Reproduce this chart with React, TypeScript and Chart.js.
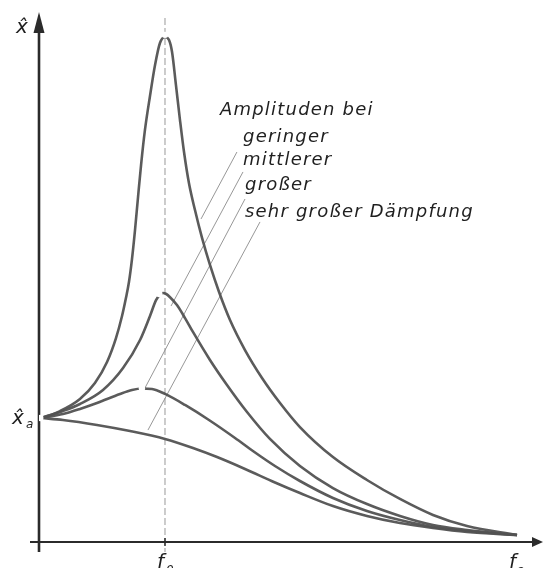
import React, { useEffect, useRef } from "react";
import { Chart, registerables } from "chart.js";

Chart.register(...registerables);

// Frequency ratio f_a / f_0 (x) and amplitude ratio x̂ / x̂_a (y)
const geringerX = [0.02, 0.167, 0.325, 0.444, 0.54, 0.611, 0.659, 0.69, 0.714, 0.738, 0.762, 0.786, 0.81, 0.841, 0.881, 0.921, 0.96, 1.0, 1.032, 1.056, 1.087, 1.119, 1.151, 1.19, 1.238, 1.294, 1.357, 1.429, 1.516, 1.635, 1.77, 1.913, 2.071, 2.333, 2.603, 2.865, 3.127, 3.397, 3.794];
const geringerY = [1.0, 1.056, 1.153, 1.282, 1.452, 1.645, 1.823, 1.968, 2.097, 2.282, 2.516, 2.782, 3.04, 3.323, 3.597, 3.847, 4.024, 4.073, 4.048, 3.952, 3.685, 3.403, 3.145, 2.895, 2.677, 2.452, 2.234, 2.016, 1.79, 1.548, 1.323, 1.121, 0.927, 0.685, 0.5, 0.347, 0.218, 0.129, 0.056];

const mittlererX = [0.02, 0.19, 0.325, 0.508, 0.667, 0.802, 0.881, 0.929, 0.96, 0.984, 1.01, 1.04, 1.095, 1.159, 1.222, 1.357, 1.492, 1.651, 1.833, 2.071, 2.333, 2.603, 2.865, 3.127, 3.397, 3.794];
const mittlererY = [1.0, 1.056, 1.113, 1.226, 1.403, 1.629, 1.823, 1.95, 1.993, 2.008, 2.0, 1.974, 1.911, 1.806, 1.694, 1.468, 1.266, 1.048, 0.831, 0.613, 0.435, 0.306, 0.21, 0.137, 0.097, 0.056];

const grosserX = [0.02, 0.19, 0.325, 0.46, 0.643, 0.738, 0.817, 0.897, 1.0, 1.159, 1.349, 1.556, 1.698, 1.873, 2.071, 2.333, 2.603, 2.865, 3.127, 3.397, 3.794];
const grosserY = [1.0, 1.032, 1.073, 1.121, 1.194, 1.226, 1.238, 1.234, 1.194, 1.105, 0.984, 0.839, 0.734, 0.613, 0.492, 0.355, 0.25, 0.177, 0.121, 0.089, 0.056];

const sehrGrosserX = [0.02, 0.19, 0.46, 0.722, 1.0, 1.222, 1.413, 1.635, 1.873, 2.071, 2.333, 2.603, 2.865, 3.127, 3.397, 3.794];
const sehrGrosserY = [1.0, 0.984, 0.944, 0.895, 0.831, 0.758, 0.685, 0.589, 0.48, 0.395, 0.29, 0.21, 0.153, 0.113, 0.081, 0.056];

// small white dots where the curves meet / peak
const markerX = [0.01, 1.0, 0.955, 0.817];
const markerY = [1.0, 4.09, 2.0, 1.24];

// label texts
const titleLine = "Amplituden bei";
const curveLabels = ["geringer", "mittlerer", "großer", "sehr großer Dämpfung"];
// leader lines: label anchor -> point on curve (data units)
const leaderFromX = [1.571, 1.619, 1.635, 1.754];
const leaderFromY = [3.145, 2.984, 2.766, 2.581];
const leaderToX = [1.286, 1.048, 0.841, 0.865];
const leaderToY = [2.605, 1.903, 1.242, 0.903];

const toPts = (xs: number[], ys: number[]) => xs.map((x, i) => ({ x, y: ys[i] }));

const CURVE = "rgba(82,82,82,0.95)";
const INK = "#1f1f1f";

const decor = {
  id: "decor",
  beforeDatasetsDraw(chart: any) {
    const { ctx, scales } = chart;
    const xs = scales.x;
    const ys = scales.y;
    const x0 = xs.getPixelForValue(0);
    const y0 = ys.getPixelForValue(0);
    const xf = xs.getPixelForValue(1);
    ctx.save();
    // dashed resonance line
    ctx.strokeStyle = "rgba(120,120,120,0.75)";
    ctx.lineWidth = 1;
    ctx.setLineDash([7, 3]);
    ctx.beginPath();
    ctx.moveTo(xf, 18);
    ctx.lineTo(xf, y0 + 10);
    ctx.stroke();
    ctx.setLineDash([]);
    // leader lines
    ctx.strokeStyle = "rgba(140,140,140,0.9)";
    ctx.lineWidth = 1;
    for (let i = 0; i < leaderFromX.length; i++) {
      ctx.beginPath();
      ctx.moveTo(xs.getPixelForValue(leaderFromX[i]), ys.getPixelForValue(leaderFromY[i]));
      ctx.lineTo(xs.getPixelForValue(leaderToX[i]), ys.getPixelForValue(leaderToY[i]));
      ctx.stroke();
    }
    // axes
    ctx.strokeStyle = "#2b2b2b";
    ctx.lineWidth = 2.6;
    ctx.beginPath();
    ctx.moveTo(x0, y0 + 10);
    ctx.lineTo(x0, 28);
    ctx.stroke();
    ctx.lineWidth = 2;
    ctx.beginPath();
    ctx.moveTo(x0 - 9, y0);
    ctx.lineTo(534, y0);
    ctx.stroke();
    // f0 tick
    ctx.lineWidth = 1.5;
    ctx.beginPath();
    ctx.moveTo(xf, y0 - 4);
    ctx.lineTo(xf, y0 + 4);
    ctx.stroke();
    // arrow heads
    ctx.fillStyle = "#2b2b2b";
    ctx.beginPath();
    ctx.moveTo(x0, 12);
    ctx.lineTo(x0 - 5.5, 33);
    ctx.lineTo(x0 + 5.5, 33);
    ctx.closePath();
    ctx.fill();
    ctx.beginPath();
    ctx.moveTo(543, y0);
    ctx.lineTo(532, y0 - 5);
    ctx.lineTo(532, y0 + 5);
    ctx.closePath();
    ctx.fill();
    ctx.restore();
  },
  afterDatasetsDraw(chart: any) {
    const { ctx } = chart;
    ctx.save();
    ctx.fillStyle = INK;
    ctx.textBaseline = "alphabetic";
    ctx.textAlign = "left";
    ctx.font = "italic 18px 'DejaVu Sans'";
    (ctx as any).letterSpacing = "1.2px";
    ctx.fillText(titleLine, 220, 115);
    const lx = [243, 243, 245, 245];
    const ly = [142, 165, 190, 217];
    curveLabels.forEach((t, i) => ctx.fillText(t, lx[i], ly[i]));
    (ctx as any).letterSpacing = "0px";
    // axis symbols
    ctx.font = "italic 20px 'DejaVu Sans'";
    ctx.fillText("x̂", 16, 33);
    ctx.fillText("x̂", 12, 424);
    ctx.font = "italic 12px 'DejaVu Sans'";
    ctx.fillText("a", 26, 428);
    ctx.font = "italic 20px 'DejaVu Sans'";
    ctx.fillText("f", 157, 568);
    ctx.fillText("f", 509, 568);
    ctx.font = "italic 12px 'DejaVu Sans'";
    ctx.fillText("0", 166, 574);
    ctx.fillText("a", 517, 574);
    ctx.restore();
  },
};

export default function App() {
  const ref = useRef<HTMLCanvasElement | null>(null);
  useEffect(() => {
    if (!ref.current) return;
    const common = {
      borderColor: CURVE,
      borderWidth: 2.6,
      pointRadius: 0,
      fill: false,
      cubicInterpolationMode: "monotone" as const,
      order: 1,
    };
    const chart = new Chart(ref.current, {
      type: "line",
      data: {
        datasets: [
          { label: "Punkte", data: toPts(markerX, markerY), showLine: false, pointRadius: 3.2, pointBackgroundColor: "#ffffff", pointBorderWidth: 0, borderColor: "rgba(0,0,0,0)", order: 0 },
          { ...common, label: curveLabels[0], data: toPts(geringerX, geringerY) },
          { ...common, label: curveLabels[1], data: toPts(mittlererX, mittlererY) },
          { ...common, label: curveLabels[2], data: toPts(grosserX, grosserY) },
          { ...common, label: curveLabels[3], data: toPts(sehrGrosserX, sehrGrosserY) },
        ],
      },
      options: {
        responsive: false,
        animation: false,
        layout: { padding: { left: 39, right: 12, top: 21.2, bottom: 26 } },
        plugins: { legend: { display: false }, tooltip: { enabled: false } },
        scales: {
          x: { type: "linear", min: 0, max: 3.905, display: false },
          y: { type: "linear", min: 0, max: 4.2, display: false },
        },
      },
      plugins: [decor],
    });
    return () => chart.destroy();
  }, []);
  return (
    <div style={{ position: "fixed", left: 0, top: 0, width: 543, height: 568, background: "#fff" }}>
      <canvas ref={ref} width={543} height={568} style={{ display: "block" }} />
    </div>
  );
}
